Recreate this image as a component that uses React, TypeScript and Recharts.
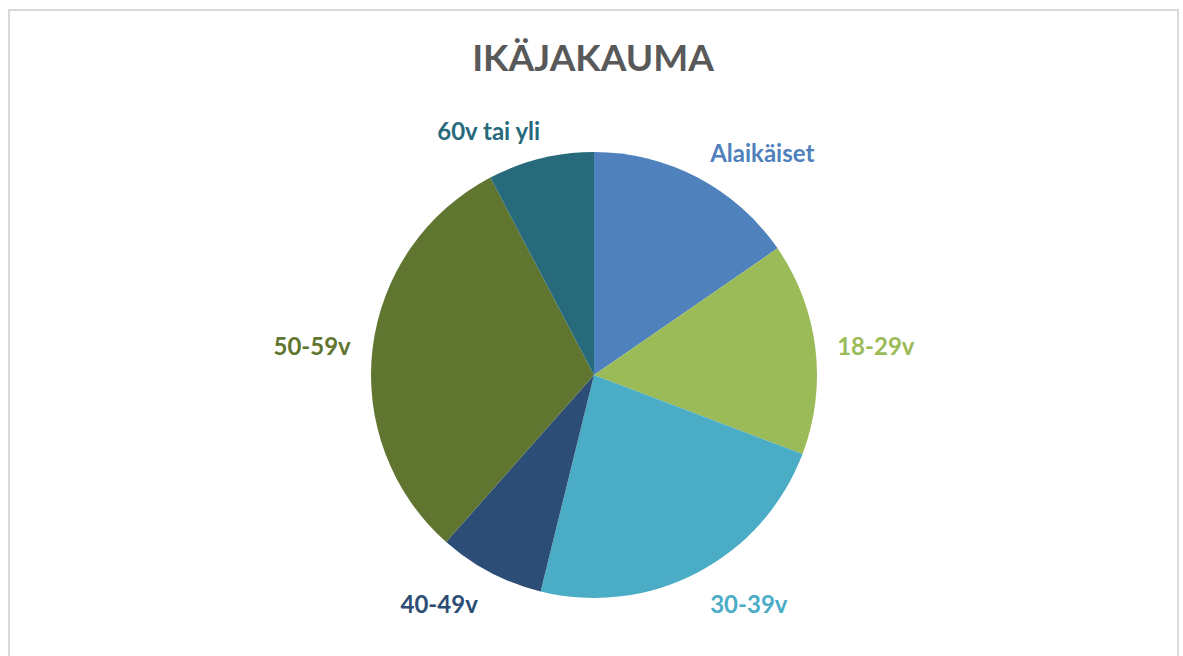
import React from "react";
import { PieChart, Pie, Cell } from "recharts";

const categories = ["Alaikäiset", "18-29v", "30-39v", "40-49v", "50-59v", "60v tai yli"];
const values = [2, 2, 3, 1, 4, 1];
const colors = ["#4F81BD", "#9BBB59", "#4BACC6", "#2C4D75", "#5F7530", "#276A7C"];
const title = "IKÄJAKAUMA";

const data = categories.map((name, i) => ({ name, value: values[i] }));

const RAD = Math.PI / 180;

const renderLabel = (props: any) => {
  const { cx, cy, midAngle, outerRadius, index } = props;
  const c = Math.cos(-midAngle * RAD);
  const s = Math.sin(-midAngle * RAD);
  const side = Math.abs(s) < 0.5;
  const R = outerRadius + (side ? 22 : 27);
  const x = cx + R * c;
  const y = cy + R * s;
  const anchor = c > 0.1 ? "start" : c < -0.1 ? "end" : "middle";
  const dy = s > 0.5 ? 17 : side ? 10 : 8;
  return (
    <text
      x={x + (c < -0.1 && s < -0.5 ? 6 : 0)}
      y={y + dy}
      textAnchor={anchor}
      fill={colors[index]}
      fontFamily="Lato, 'Open Sans', sans-serif"
      fontWeight={700}
      fontSize={24}
    >
      {categories[index]}
    </text>
  );
};

export default function App() {
  return (
    <div style={{ position: "absolute", left: 0, top: 0, width: 1183, height: 656, overflow: "hidden", background: "#fff" }}>
      <svg width={1183} height={656} style={{ position: "absolute", left: 0, top: 0 }}>
        <rect x={9} y={10} width={1169} height={700} fill="#fff" stroke="#D9D9D9" strokeWidth={2} />
        <text
          x={593}
          y={71}
          textAnchor="middle"
          fill="#595959"
          fontFamily="Lato, 'Open Sans', sans-serif"
          fontWeight={700}
          fontSize={37}
        >
          {title}
        </text>
      </svg>
      <div style={{ position: "absolute", left: 0, top: 0 }}>
        <PieChart width={1183} height={656} margin={{ top: 0, right: 0, bottom: 0, left: 0 }}>
          <Pie
            data={data}
            dataKey="value"
            nameKey="name"
            cx={594}
            cy={375}
            outerRadius={223}
            startAngle={90}
            endAngle={-270}
            stroke="none"
            label={renderLabel}
            labelLine={false}
            isAnimationActive={false}
          >
            {data.map((d, i) => (
              <Cell key={d.name} fill={colors[i]} />
            ))}
          </Pie>
        </PieChart>
      </div>
    </div>
  );
}
